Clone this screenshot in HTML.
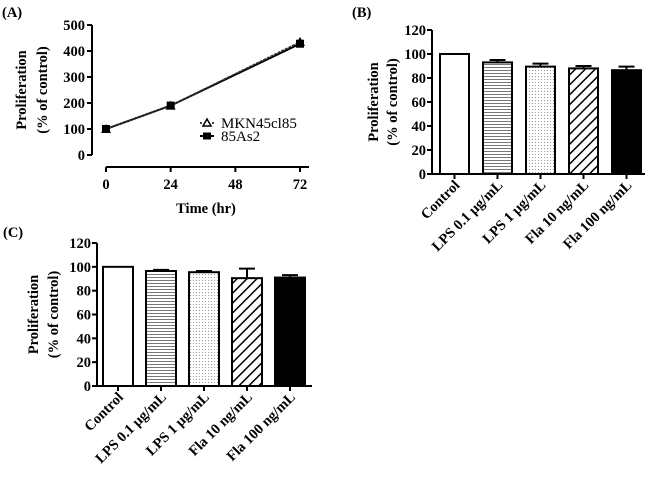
<!DOCTYPE html>
<html><head><meta charset="utf-8"><style>
html,body{margin:0;padding:0;background:#fff;}
svg text{font-family:"Liberation Serif","DejaVu Serif",serif;}
.b{font-weight:bold;font-size:14.5px;}
</style></head><body>
<svg id="fig" width="650" height="473" viewBox="0 0 650 473" xmlns="http://www.w3.org/2000/svg">
<defs>
<pattern id="hlines" width="4" height="3" patternUnits="userSpaceOnUse"><rect width="4" height="3" fill="#fff"/><line x1="0" y1="1.5" x2="4" y2="1.5" stroke="#777" stroke-width="1"/></pattern>
<pattern id="dots" width="3" height="3" patternUnits="userSpaceOnUse"><rect width="3" height="3" fill="#fff"/><rect x="1" y="1" width="1" height="1" fill="#999"/></pattern>
<pattern id="hatch" width="7" height="7" patternUnits="userSpaceOnUse" patternTransform="rotate(45)"><rect width="7" height="7" fill="#fff"/><line x1="0" y1="0" x2="0" y2="7" stroke="#000" stroke-width="3"/></pattern>
</defs>
<g id="A"></g>
<g id="B"></g>
<g id="C"></g>
</svg>
<script>
const timeCats = [0, 24, 48, 72];
const timeTicks = [0, 24, 48, 72];
const lineYTicks = [0, 100, 200, 300, 400, 500];
const mknTimes = [0, 24, 72];
const mknValues = [100, 190, 435];
const as2Times = [0, 24, 72];
const as2Values = [100, 190, 428];

const barCats = ["Control", "LPS 0.1 \u00b5g/mL", "LPS 1 \u00b5g/mL", "Fla 10 ng/mL", "Fla 100 ng/mL"];
const barYTicks = [0, 20, 40, 60, 80, 100, 120];
const bValues = [100, 93, 89.5, 88, 86.5];
const bErrors = [0, 2, 2.5, 2, 3];
const cValues = [100, 96.5, 95.5, 90.5, 91];
const cErrors = [0, 1, 1, 8, 2];

const NS = "http://www.w3.org/2000/svg";
function mk(parent, tag, attrs, text) {
  const e = document.createElementNS(NS, tag);
  for (const k in attrs) e.setAttribute(k, attrs[k]);
  if (text !== undefined) e.textContent = text;
  parent.appendChild(e);
  return e;
}

// ----- Panel A -----
(function(){
  const g = document.getElementById("A");
  const ax = 92, y0 = 155, y1 = 25, xa = 106, xb = 300, xAxisY = 167;
  const ys = v => y0 + (v - 0) / 500 * (y1 - y0);
  const xs = t => xa + t / 72 * (xb - xa);
  let t = mk(g, "text", {x: 2, y: 17, class: "b", "font-size": "15"}, "(A)");
  
  
  let l = mk(g, "line", {x1: ax, y1: y1, x2: ax, y2: y0, stroke: "#000", "stroke-width": 2});
  
  
  lineYTicks.forEach(v => {
    mk(g, "line", {x1: ax - 5, y1: ys(v), x2: ax, y2: ys(v), stroke: "#000", "stroke-width": 2});
    const tx = mk(g, "text", {x: ax - 7, y: ys(v) + 5, class: "b", "text-anchor": "end"}, v);
    
    
  });
  l = mk(g, "line", {x1: xa, y1: xAxisY, x2: 309, y2: xAxisY, stroke: "#000", "stroke-width": 2});
  
  
  timeTicks.forEach(v => {
    mk(g, "line", {x1: xs(v), y1: xAxisY, x2: xs(v), y2: xAxisY + 5, stroke: "#000", "stroke-width": 2});
    const tx = mk(g, "text", {x: xs(v), y: 189, class: "b", "text-anchor": "middle"}, v);
    
    
  });
  t = mk(g, "text", {x: 206, y: 213, class: "b", "text-anchor": "middle"}, "Time (hr)");
  
  
  t = mk(g, "text", {x: 0, y: 0, class: "b", "text-anchor": "middle", transform: "translate(26,90) rotate(-90)"}, "Proliferation");
  
  
  t = mk(g, "text", {x: 0, y: 0, class: "b", "text-anchor": "middle", transform: "translate(47,90) rotate(-90)"}, "(% of control)");
  
  
  const p1 = mknTimes.map((x, i) => xs(x) + "," + ys(mknValues[i])).join(" ");
  const p2 = as2Times.map((x, i) => xs(x) + "," + ys(as2Values[i])).join(" ");
  let s = mk(g, "polyline", {points: p2, fill: "none", stroke: "#000", "stroke-width": 2});
  
  
  s = mk(g, "polyline", {points: p1, fill: "none", stroke: "#333", "stroke-width": 1.5, "stroke-dasharray": "3,1"});
  
  
  as2Times.forEach((x, i) => {
    const r = mk(g, "rect", {x: xs(x) - 4, y: ys(as2Values[i]) - 4, width: 8, height: 8, fill: "#000"});
    
    
  });
  mknTimes.forEach((x, i) => {
    const cx = xs(x), cy = ys(mknValues[i]);
    const p = mk(g, "polygon", {points: `${cx-5},${cy+4} ${cx+5},${cy+4} ${cx},${cy-5}`, fill: "#000"});
    
    
  });
  const lg = mk(g, "g", {});
  
  
  mk(lg, "line", {x1: 200, y1: 123, x2: 214, y2: 123, stroke: "#000", "stroke-width": 1.5, "stroke-dasharray": "2,2"});
  mk(lg, "polygon", {points: "203,126 211,126 207,119", fill: "#fff", stroke: "#000", "stroke-width": 1.5});
  t = mk(lg, "text", {x: 221, y: 128, "font-size": "15"}, "MKN45cl85");
  
  
  mk(lg, "line", {x1: 200, y1: 136, x2: 214, y2: 136, stroke: "#000", "stroke-width": 2});
  mk(lg, "rect", {x: 203, y: 132.5, width: 8, height: 7, fill: "#000"});
  t = mk(lg, "text", {x: 221, y: 141, "font-size": "15"}, "85As2");
  
  
})();

const fills = ["#fff", "url(#hlines)", "url(#dots)", "url(#hatch)", "#000"];
function barPanel(id, label, lx, ly, ax, yTop, yBot, xEnd, firstX, pitch, bw, ylx1, ylx2, values, errors) {
  const g = document.getElementById(id);
  const ys = v => yBot + v / 120 * (yTop - yBot);
  let t = mk(g, "text", {x: lx, y: ly, class: "b", "font-size": "15"}, label);
  
  
  const yc = (yTop + yBot) / 2;
  t = mk(g, "text", {x: 0, y: 0, class: "b", "text-anchor": "middle", transform: `translate(${ylx1},${yc}) rotate(-90)`}, "Proliferation");
  
  
  t = mk(g, "text", {x: 0, y: 0, class: "b", "text-anchor": "middle", transform: `translate(${ylx2},${yc}) rotate(-90)`}, "(% of control)");
  
  
  barYTicks.forEach(v => {
    mk(g, "line", {x1: ax - 5, y1: ys(v), x2: ax, y2: ys(v), stroke: "#000", "stroke-width": 2});
    const tx = mk(g, "text", {x: ax - 6, y: ys(v) + 5, class: "b", "text-anchor": "end"}, v);
    
    
  });
  values.forEach((v, i) => {
    const x = firstX + i * pitch, cx = x + bw / 2;
    if (errors[i] > 0) {
      const e = mk(g, "path", {d: `M${cx},${ys(v)} V${ys(v + errors[i])} M${cx - 8},${ys(v + errors[i])} H${cx + 8}`, stroke: "#000", "stroke-width": 2, fill: "none"});
      
      
    }
    const r = mk(g, "rect", {x: x, y: ys(v), width: bw, height: yBot - ys(v), fill: fills[i], stroke: "#000", "stroke-width": 2});
    
    
    mk(g, "line", {x1: cx, y1: yBot, x2: cx, y2: yBot + 5, stroke: "#000", "stroke-width": 2});
    const tx = mk(g, "text", {x: 0, y: 0, class: "b", "text-anchor": "end", transform: `translate(${cx + 6},${yBot + 12}) rotate(-45)`}, barCats[i]);
    
    
  });
  let l = mk(g, "line", {x1: ax, y1: yTop, x2: ax, y2: yBot, stroke: "#000", "stroke-width": 2});
  
  
  l = mk(g, "line", {x1: ax, y1: yBot, x2: xEnd, y2: yBot, stroke: "#000", "stroke-width": 2});
  
  
}
barPanel("B", "(B)", 352, 17, 432, 30, 174, 645, 440, 43, 29, 378, 397, bValues, bErrors);
barPanel("C", "(C)", 3, 237, 97, 243, 386, 312, 103, 43, 30, 38, 58, cValues, cErrors);
</script>
</body></html>
